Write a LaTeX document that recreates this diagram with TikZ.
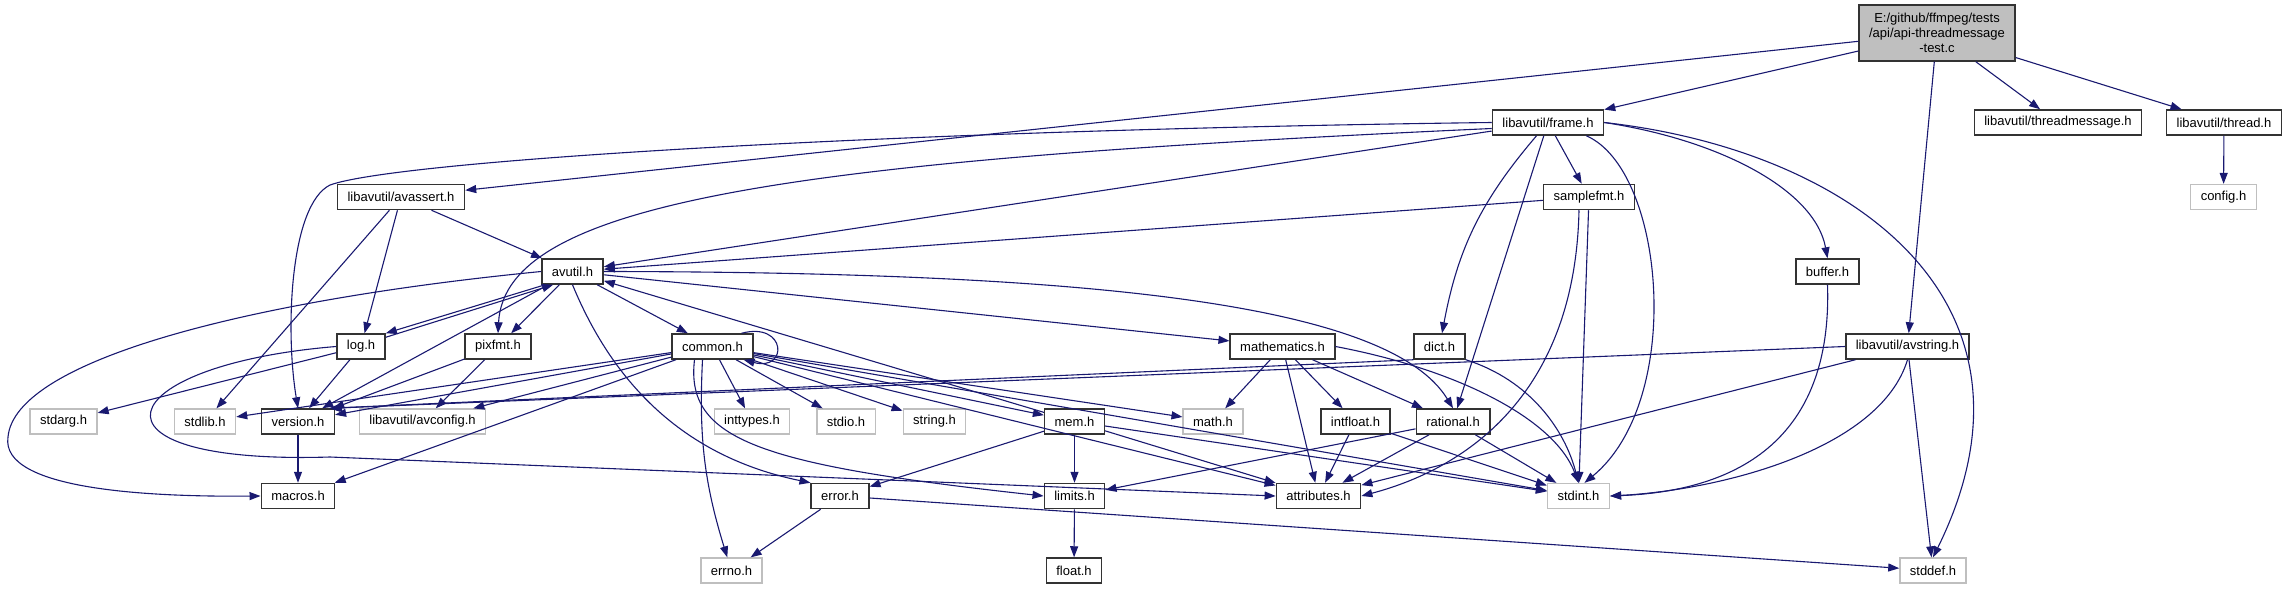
\documentclass[tikz,border=0pt]{standalone}
\usepackage{fontspec}
\setmainfont{Liberation Sans}
\usetikzlibrary{arrows.meta}
\definecolor{edgeblue}{RGB}{25,25,112}
\definecolor{sysline}{HTML}{BFBFBF}
\definecolor{mainfill}{HTML}{BFBFBF}

\begin{document}
\begin{tikzpicture}[
  x=1pt, y=-1pt,
  font=\fontsize{13}{15}\selectfont,
  hdr/.style={draw=black!80, line width=1.5pt, fill=white, minimum height=25pt, inner xsep=10pt, inner ysep=2pt},
  sys/.style={hdr, draw=sysline, line width=1.3pt},
  topfile/.style={hdr, fill=mainfill, align=center, minimum height=56pt},
  dep/.style={draw=edgeblue, line width=1.1pt, -{Triangle[length=11pt,width=8pt]}}
]
\useasboundingbox (0,0) rectangle (2287,589);

\node[topfile] (main) at (1937,33) {E:/github/ffmpeg/tests\\/api/api-threadmessage\\-test.c};
\node[hdr] (frame) at (1548,122.5) {libavutil/frame.h};
\node[hdr] (tmsg) at (2058,122.5) {libavutil/threadmessage.h};
\node[hdr] (thread) at (2224,122.5) {libavutil/thread.h};
\node[hdr] (avassert) at (401,197) {libavutil/avassert.h};
\node[hdr] (samplefmt) at (1589,197) {samplefmt.h};
\node[sys] (config) at (2223.5,197) {config.h};
\node[hdr] (avutil) at (572.5,271.5) {avutil.h};
\node[hdr] (buffer) at (1827.5,271.5) {buffer.h};
\node[hdr] (log) at (361,346.5) {log.h};
\node[hdr] (pixfmt) at (498,346.5) {pixfmt.h};
\node[hdr] (common) at (712.5,346.5) {common.h};
\node[hdr] (mathematics) at (1282.5,346.5) {mathematics.h};
\node[hdr] (dict) at (1439.5,346.5) {dict.h};
\node[hdr] (avstring) at (1907.5,346.5) {libavutil/avstring.h};
\node[sys] (stdarg) at (63.5,421.5) {stdarg.h};
\node[sys] (stdlib) at (205,421.5) {stdlib.h};
\node[hdr] (version) at (298,421.5) {version.h};
\node[sys] (avconfig) at (422.5,421.5) {libavutil/avconfig.h};
\node[sys] (inttypes) at (752,421.5) {inttypes.h};
\node[sys] (stdio) at (846,421.5) {stdio.h};
\node[sys] (string) at (934.5,421.5) {string.h};
\node[hdr] (mem) at (1074.5,421.5) {mem.h};
\node[sys] (math) at (1213,421.5) {math.h};
\node[hdr] (intfloat) at (1355.5,421.5) {intfloat.h};
\node[hdr] (rational) at (1453,421.5) {rational.h};
\node[hdr] (macros) at (298,496) {macros.h};
\node[hdr] (error) at (840,496) {error.h};
\node[hdr] (limits) at (1074.5,496) {limits.h};
\node[hdr] (attributes) at (1318.5,496) {attributes.h};
\node[sys] (stdint) at (1578.5,496) {stdint.h};
\node[sys] (errno) at (731.5,570.5) {errno.h};
\node[hdr] (float) at (1074,570.5) {float.h};
\node[sys] (stddef) at (1933,570.5) {stddef.h};

\draw[dep] (main) -- (avassert);
\draw[dep] (main) -- (frame);
\draw[dep] (main) -- (tmsg);
\draw[dep] (main) -- (thread);
\draw[dep] (main) -- (avstring);
\draw[dep] (thread) -- (config);

\draw[dep] (frame) -- (avutil);
\draw[dep] (frame.west) .. controls (900,130) and (400,160) .. (330,185) .. controls (290,205) and (285,330) .. (version.north);
\draw[dep] ([yshift=-6pt]frame.west) .. controls (800,160) and (505,200) .. (pixfmt.north);
\draw[dep] (frame) -- (samplefmt);
\draw[dep] (frame) to[bend right=15] (dict);
\draw[dep] (frame) -- (rational);
\draw[dep] ([xshift=-18pt]frame.south east) .. controls (1665,170) and (1685,400) .. ([xshift=6pt]stdint.north);
\draw[dep] (frame.east) .. controls (1720,140) and (1815,190) .. (buffer.north);
\draw[dep] (frame.east) .. controls (1850,150) and (2060,300) .. (stddef.north);

\draw[dep] (samplefmt) -- (avutil);
\draw[dep] ([xshift=-10pt]samplefmt.south) .. controls (1575,400) and (1460,470) .. (attributes.east);
\draw[dep] (samplefmt) -- (stdint);
\draw[dep] (buffer.south) .. controls (1832,420) and (1760,490) .. (stdint.east);

\draw[dep] (avstring.south) .. controls (1880,450) and (1720,490) .. (stdint.east);
\draw[dep] (avstring) -- (stddef);
\draw[dep] (avstring) -- (attributes);
\draw[dep] (avstring.west) -- ([xshift=-4pt]version.north east);
\draw[dep] (dict.south west) -- ([xshift=-6pt]version.north east);
\draw[dep] (dict.south east) .. controls (1530,380) and (1565,430) .. (stdint.north);

\draw[dep] (avassert) -- (stdlib);
\draw[dep] (avassert) -- (log);
\draw[dep] (avassert) -- (avutil);

\draw[dep] ([xshift=4pt]avutil.south west) -- (log.north east);
\draw[dep] ([yshift=-4pt]log.north east) -- ([xshift=12pt]avutil.south west);
\draw[dep] (avutil) -- (version);
\draw[dep] (avutil) -- (pixfmt);
\draw[dep] (avutil) -- (common);
\draw[dep] (avutil.west) .. controls (250,300) and (15,360) .. (8,437) .. controls (0,490) and (150,497) .. (macros.west);
\draw[dep] (avutil.south) .. controls (620,400) and (700,460) .. (error.north west);
\draw[dep] (avutil) -- (mathematics);
\draw[dep] (avutil.east) .. controls (1100,272) and (1390,305) .. (rational.north);
\draw[dep] (mem) -- (avutil);

\draw[dep] (log) -- (stdarg);
\draw[dep] (log) -- (version);
\draw[dep] (log.west) .. controls (110,365) and (70,465) .. (330,457) -- (attributes.west);
\draw[dep] (pixfmt) -- (version);
\draw[dep] (pixfmt) -- (avconfig);
\draw[dep] (version) -- (macros);

\draw[dep] ([xshift=-12pt]common.north east) .. controls +(45,-12) and +(45,12) .. ([xshift=-10pt]common.south east);
\draw[dep] (common) -- (inttypes);
\draw[dep] (common) -- (stdio);
\draw[dep] (common) -- (string);
\draw[dep] (common) -- (mem);
\draw[dep] (common) -- (math);
\draw[dep] (common) -- (attributes);
\draw[dep] (common) -- (stdint);
\draw[dep] ([xshift=-18pt]common.south) .. controls (685,440) and (760,465) .. (limits.west);
\draw[dep] ([xshift=-10pt]common.south) to[bend right=10] (errno);
\draw[dep] (common) -- (macros);
\draw[dep] (common) -- (version);
\draw[dep] (common) -- (stdlib);
\draw[dep] (common) -- (avconfig);

\draw[dep] (mathematics) -- (math);
\draw[dep] (mathematics) -- (intfloat);
\draw[dep] (mathematics) -- (attributes);
\draw[dep] (mathematics) -- (rational);
\draw[dep] (mathematics.east) .. controls (1460,370) and (1555,420) .. (stdint.north);
\draw[dep] (intfloat) -- (attributes);
\draw[dep] (intfloat) -- (stdint);
\draw[dep] (rational) -- (attributes);
\draw[dep] (rational) -- (stdint);
\draw[dep] (rational) -- (limits);

\draw[dep] (mem) -- (error);
\draw[dep] (mem) -- (limits);
\draw[dep] (mem) -- (attributes);
\draw[dep] (mem) -- (stdint);
\draw[dep] (error) -- (errno);
\draw[dep] (error) -- (stddef);
\draw[dep] (limits) -- (float);

\end{tikzpicture}
\end{document}
